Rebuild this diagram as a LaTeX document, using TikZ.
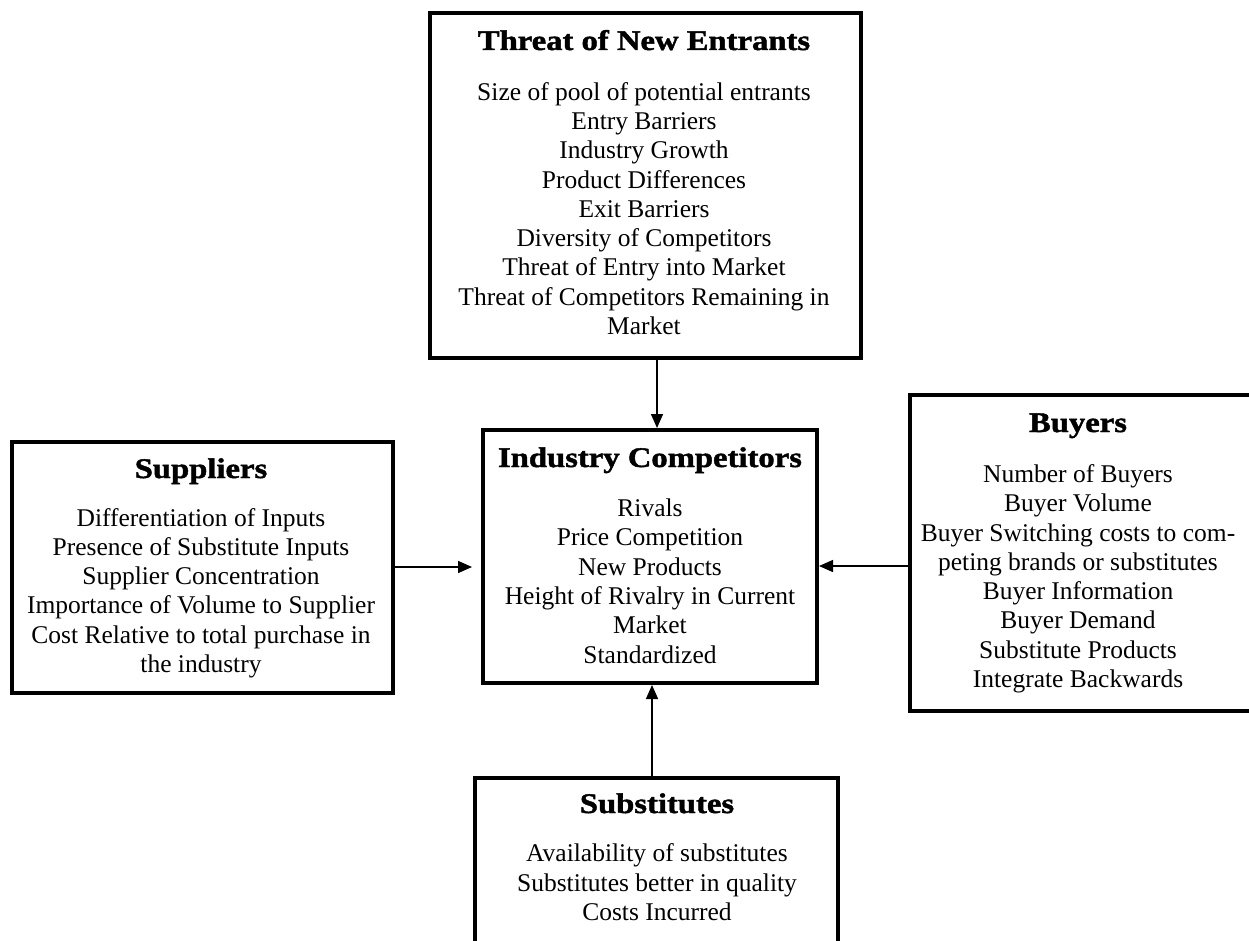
\documentclass[tikz,border=0pt]{standalone}
\usepackage{fontspec}
\setmainfont{Liberation Serif}
\newfontfamily\titlefont{Liberation Serif}[FakeStretch=1.15,FakeBold=1.5]
\usetikzlibrary{arrows.meta,calc}
\begin{document}
\begin{tikzpicture}[x=1pt,y=-1pt,
  box/.style={draw,line width=4pt,rectangle,inner sep=0pt},
  ttl/.style={anchor=base,inner sep=0pt,font=\titlefont\bfseries\fontsize{28.4}{32}\selectfont},
  body/.style={anchor=base,inner sep=0pt,align=center,font=\fontsize{25.5}{29.3}\selectfont},
  arr/.style={line width=1.5pt,-{Triangle[length=14pt,width=12pt]}}]
\useasboundingbox (0,0) rectangle (1249,941);
\clip (0,0) rectangle (1249,941);
\fill[white] (0,0) rectangle (1249,941);
% boxes
\node[box,minimum width=431pt,minimum height=345pt] (ent) at (645.5,185.5) {};
\node[box,minimum width=334pt,minimum height=253pt] (comp) at (650,556.5) {};
\node[box,minimum width=381pt,minimum height=251pt] (sup) at (202.5,567.5) {};
\node[box,minimum width=342pt,minimum height=316pt] (buy) at (1081,553) {};
\node[box,minimum width=363pt,minimum height=182pt] (subs) at (656.5,869) {};
% texts (body nodes placed at the baseline of their last line)
\node[ttl] (entT) at (644,50) {Threat of New Entrants};
\node[body] (entB) at (644,334.5) {Size of pool of potential entrants\\Entry Barriers\\Industry Growth\\Product Differences\\Exit Barriers\\Diversity of Competitors\\Threat of Entry into Market\\Threat of Competitors Remaining in\\Market};
\node[ttl] (compT) at (650,467) {Industry Competitors};
\node[body] (compB) at (650,663) {Rivals\\Price Competition\\New Products\\Height of Rivalry in Current\\Market\\Standardized};
\node[ttl] (supT) at (201,478) {Suppliers};
\node[body] (supB) at (201,672.5) {Differentiation of Inputs\\Presence of Substitute Inputs\\Supplier Concentration\\Importance of Volume to Supplier\\Cost Relative to total purchase in\\the industry};
\node[ttl] (buyT) at (1078,432) {Buyers};
\node[body] (buyB) at (1078,687.5) {Number of Buyers\\Buyer Volume\\Buyer Switching costs to com-\\peting brands or substitutes\\Buyer Information\\Buyer Demand\\Substitute Products\\Integrate Backwards};
\node[ttl] (subT) at (657,813) {Substitutes};
\node[body] (subB) at (657,920.5) {Availability of substitutes\\Substitutes better in quality\\Costs Incurred};
% connectors
\draw[arr] (657,0 |- ent.south) -- (657,0 |- comp.north);
\draw[arr,shorten >=9pt] (sup.east |- 0,567) -- (comp.west |- 0,567);
\draw[arr] (buy.west |- 0,566) -- (comp.east |- 0,566);
\draw[arr] (652,0 |- subs.north) -- (652,0 |- comp.south);
\end{tikzpicture}
\end{document}
